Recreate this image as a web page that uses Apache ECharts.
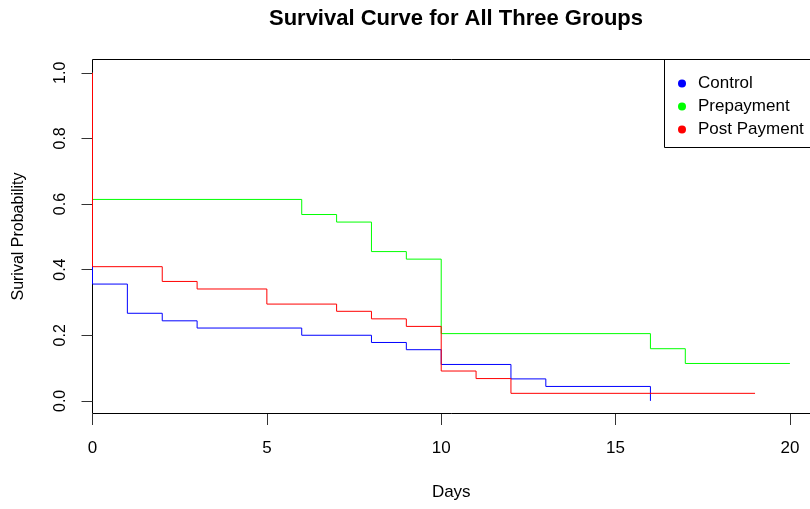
<!DOCTYPE html>
<html>
<head>
<meta charset="utf-8">
<script src="https://cdn.jsdelivr.net/npm/echarts@6/dist/echarts.min.js"></script>
<style>
html,body{margin:0;padding:0;background:#fff;}
#chart{width:810px;height:509px;}
</style>
</head>
<body>
<div id="chart"></div>
<script>
// Kaplan-Meier steps (time, survival after the drop)
var groupNames = ['Control', 'Prepayment', 'Post Payment'];
var groupColors = ['#0000ff', '#00ff00', '#ff0000'];

var controlTime = [0, 0, 1, 2, 3, 6, 8, 9, 10, 12, 13, 16];
var controlSurv = [1, 0.356, 0.267, 0.244, 0.222, 0.2, 0.178, 0.156, 0.111, 0.067, 0.044, 0];

var prepayTime = [0, 0, 6, 7, 8, 9, 10, 16, 17, 20];
var prepaySurv = [1, 0.614, 0.568, 0.545, 0.455, 0.432, 0.205, 0.159, 0.114, 0.114];

var postTime = [0, 0, 2, 3, 5, 7, 8, 9, 10, 11, 12, 19];
var postSurv = [1, 0.409, 0.364, 0.341, 0.295, 0.273, 0.25, 0.227, 0.091, 0.068, 0.023, 0.023];

var xTicks = [0, 5, 10, 15, 20];
var yTicks = [0, 0.2, 0.4, 0.6, 0.8, 1.0];

function pairs(t, s){
	var out = [];
	for(var i=0;i<t.length;i++) out.push([t[i], s[i]]);
	return out;
}

var allData = [pairs(controlTime, controlSurv), pairs(prepayTime, prepaySurv), pairs(postTime, postSurv)];

var mychart = echarts.init(document.getElementById('chart'));
var myseries = [];
for(var i=0;i<groupNames.length;i++)
{
	myseries.push({
		name: groupNames[i],
		type: 'line',
		step: 'end',
		data: allData[i],
		showSymbol: false,
		symbol: 'circle',
		color: groupColors[i],
		lineStyle: {color: groupColors[i], width: 1},
		animation: false
	});
}

var option = {
	backgroundColor: '#fff',
	animation: false,
	title: {
		text: 'Survival Curve for All Three Groups',
		left: 451,
		textAlign: 'center',
		top: 3,
		textStyle: {fontFamily: 'Liberation Sans', fontWeight: 'bold', fontSize: 22, color: '#000'}
	},
	legend: {
		orient: 'vertical',
		left: 664,
		top: 59,
		padding: [16, 0, 12, 14],
		itemGap: 6,
		itemWidth: 8,
		itemHeight: 8,
		data: groupNames.map(function(n){ return {name: n, icon: 'circle'}; }),
		textStyle: {fontFamily: 'Liberation Sans', fontSize: 17, color: '#000', lineHeight: 16, padding: [0,0,0,7]}
	},
	// plot frame and legend frame both run off the right edge, as in the original
	graphic: [{
		type: 'polyline',
		shape: {points: [[820, 59.5], [92.5, 59.5], [92.5, 413.5], [820, 413.5]]},
		style: {fill: null, stroke: '#000', lineWidth: 1},
		silent: true, z: 0
	}, {
		type: 'rect',
		shape: {x: 664.5, y: 59.5, width: 200, height: 88},
		style: {fill: null, stroke: '#000', lineWidth: 1},
		silent: true
	}],
	grid: {
		left: 92.5, right: 0, top: 59, bottom: 95,
		show: false, containLabel: false
	},
	xAxis: {
		type: 'value',
		min: 0, max: 20.576, interval: 5,
		name: 'Days',
		nameLocation: 'middle',
		nameGap: 70,
		nameTextStyle: {fontFamily: 'Liberation Sans', fontSize: 17, color: '#000'},
		axisLine: {show: false, onZero: false},
		axisTick: {show: true, length: 11, lineStyle: {color: '#333'}, customValues: xTicks},
		axisLabel: {margin: 26, fontFamily: 'Liberation Sans', fontSize: 17, color: '#000', customValues: xTicks},
		splitLine: {show: false}
	},
	yAxis: {
		type: 'value',
		min: -0.04, max: 1.042,
		name: 'Surival Probability',
		nameLocation: 'middle',
		nameGap: 66,
		nameRotate: 90,
		nameTextStyle: {fontFamily: 'Liberation Sans', fontSize: 16, color: '#000'},
		axisLine: {show: false, onZero: false},
		axisTick: {show: true, length: 11, lineStyle: {color: '#333'}, customValues: yTicks},
		axisLabel: {rotate: 90, margin: 24, fontFamily: 'Liberation Sans', fontSize: 16, color: '#000', customValues: yTicks,
			formatter: function(v){ return v.toFixed(1); }},
		splitLine: {show: false}
	},
	series: myseries
};
mychart.setOption(option);
</script>
</body>
</html>
